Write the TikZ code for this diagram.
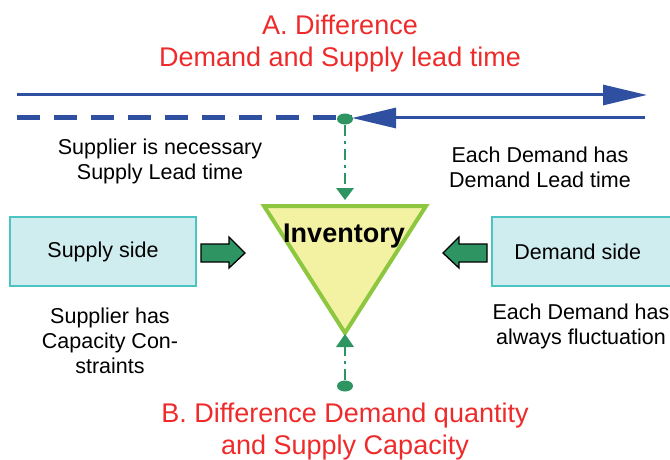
\documentclass[tikz,border=0pt]{standalone}
\usepackage{fontspec}
\setmainfont{Liberation Sans}
\usetikzlibrary{arrows.meta}
\definecolor{lineblue}{HTML}{2F4FA0}
\definecolor{titlered}{HTML}{EE2A2A}
\definecolor{dotgreen}{HTML}{2E9462}
\definecolor{trifill}{HTML}{F3F1A2}
\definecolor{triedge}{HTML}{8DC63F}
\definecolor{boxfill}{HTML}{CFECEF}
\definecolor{boxedge}{HTML}{4DC4C4}
\tikzset{
  titletext/.style={text=titlered, font=\fontsize{27}{32}\selectfont, align=center},
  bodytext/.style={font=\fontsize{21.5}{25}\selectfont, align=center},
  sidebox/.style={draw=boxedge, fill=boxfill, line width=1.5pt, minimum width=186pt, minimum height=69pt, font=\fontsize{21.5}{25}\selectfont, inner sep=0pt},
  bigtip/.style={-{Triangle[length=44pt,width=20pt]}},
  dotline/.style={draw=dotgreen, line width=2.5pt, dash pattern=on 11pt off 5pt on 3pt off 5pt},
  gdot/.style={ellipse, fill=dotgreen, minimum width=16pt, minimum height=11pt, inner sep=0pt},
  blockarrow/.style={fill=dotgreen, draw=black, line width=1.3pt, line join=miter},
}
\usetikzlibrary{shapes.geometric}
\begin{document}
\begin{tikzpicture}[x=1pt,y=-1pt]
\useasboundingbox (0,0) rectangle (670,460);
% titles
\node[titletext] (titleA) at (340,44) {A. Difference\\Demand and Supply lead time};
\node[titletext] (titleB) at (345,432) {B. Difference Demand quantity\\and Supply Capacity};
% top arrow
\coordinate (t1) at (17,95);
\coordinate (t2) at (647,95);
\draw[lineblue, line width=3pt, bigtip] (t1) -- (t2);
% second line
\coordinate (b1) at (17,118);
\coordinate (bm) at (352,118);
\coordinate (b2) at (645,118);
\draw[lineblue, line width=5pt, dash pattern=on 23pt off 14pt] (b1) -- (bm);
\draw[lineblue, line width=3pt, bigtip] (b2) -- (bm);
% inventory triangle
\coordinate (tl) at (264,206);
\coordinate (tr) at (426,206);
\coordinate (tb) at (345,333);
\draw[draw=triedge, fill=trifill, line width=4pt, line join=miter] (tl) -- (tr) -- (tb) -- cycle;
\node[font=\bfseries\fontsize{27}{30}\selectfont] (inv) at (344,236) {Inventory};
% top dot and dash-dot connector
\node[gdot] (dtop) at (345,119) {};
\coordinate (ttip) at (345,200);
\draw[dotline] (dtop.south) -- (345,190);
\fill[dotgreen] (336,188) -- (354,188) -- (ttip) -- cycle;
% bottom dot and connector
\node[gdot] (dbot) at (345,386) {};
\coordinate (btip) at (345,334);
\draw[dotline] (dbot.north) -- (345,345);
\fill[dotgreen] (336,347) -- (354,347) -- (btip) -- cycle;
% side boxes
\node[sidebox] (supply) at (103,251.5) {Supply side};
\node[sidebox, anchor=west] (demand) at (491,251.5) {Demand side\hspace*{14pt}};
% block arrows
\draw[blockarrow] (201,244) -- (229,244) -- (229,237) -- (245,253) -- (229,268) -- (229,262) -- (201,262) -- cycle;
\draw[blockarrow] (487,244) -- (459,244) -- (459,237) -- (443,253) -- (459,268) -- (459,262) -- (487,262) -- cycle;
% body texts
\node[bodytext] (t_sup) at (160,161) {Supplier is necessary\\Supply Lead time};
\node[bodytext] (t_dem) at (540,167) {Each Demand has\\Demand Lead time};
\node[bodytext] (t_cap) at (110,341) {Supplier has\\Capacity Con-\\straints};
\node[bodytext] (t_fl) at (581,326) {Each Demand has\\always fluctuation};
\end{tikzpicture}
\end{document}
